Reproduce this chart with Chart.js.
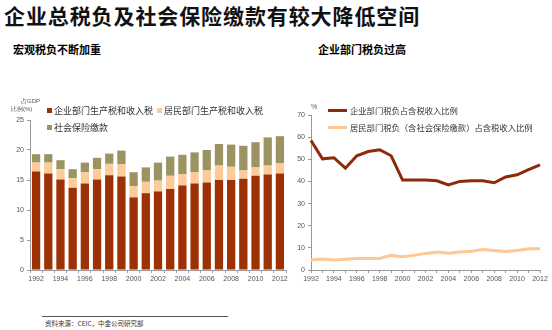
<!DOCTYPE html>
<html><head><meta charset="utf-8">
<script src="https://cdn.jsdelivr.net/npm/chart.js@4.4.1/dist/chart.umd.min.js"></script>
<style>
html,body{margin:0;padding:0;background:#fff;}
body{width:552px;height:330px;position:relative;overflow:hidden;font-family:"Noto Sans CJK SC","Noto Sans",sans-serif;}
.t{position:absolute;white-space:nowrap;line-height:1;}
#title{left:4px;top:5px;font-size:21px;font-weight:bold;color:#111;letter-spacing:0.9px;}
.sub{font-size:11px;font-weight:bold;color:#000;}
.lg{font-size:9px;color:#333;}
.lg2{font-size:8.3px;color:#333;}
.sm{font-size:6px;color:#555;font-family:"Liberation Sans",sans-serif;}
.sw{position:absolute;width:5px;height:5px;}
.ln{position:absolute;width:19px;height:3px;}
#c1{position:absolute;left:0;top:95px;}
#c2{position:absolute;left:295px;top:95px;}
#foot{position:absolute;left:42px;top:316px;width:186px;border-top:1px solid #555;}
</style></head><body>
<div id="title" class="t"></div>
<div id="sub1" class="t sub" style="left:13px;top:44px;"></div>
<div id="sub2" class="t sub" style="left:318px;top:44px;"></div>
<canvas id="c1" width="292" height="200"></canvas>
<canvas id="c2" width="257" height="200"></canvas>
<div class="t sm" style="left:21px;top:98px;">占GDP</div>
<div class="t sm" style="left:11px;top:106px;">比例(%)</div>
<div class="t sm" style="left:311px;top:103px;font-size:7px;">%</div>
<div id="leg1"></div>
<div id="leg2"></div>
<div id="foot"></div>
<div class="t" style="left:45px;top:320px;font-size:6.5px;color:#333;">资料来源：CEIC，中金公司研究部</div>
<script>
const titleText = "企业总税负及社会保险缴款有较大降低空间";
const subLeft = "宏观税负不断加重";
const subRight = "企业部门税负过高";
const years = ["1992","1993","1994","1995","1996","1997","1998","1999","2000","2001","2002","2003","2004","2005","2006","2007","2008","2009","2010","2011","2012"];
const barNames = ["企业部门生产税和收入税","居民部门生产税和收入税","社会保险缴款"];
const corpTax = [16.4,16.1,15.1,13.7,14.4,15.1,15.8,15.6,12.1,12.8,13.1,13.5,14.1,14.4,14.6,15.0,15.0,15.2,15.7,15.9,16.1];
const houseTax = [1.5,1.8,1.7,1.6,1.9,1.7,1.9,2.0,1.9,1.9,1.8,2.2,1.9,1.9,2.0,2.4,2.2,1.4,1.4,1.5,1.7];
const socialIns = [1.4,1.4,1.5,1.5,1.6,1.9,1.7,2.3,2.3,2.4,3.0,3.2,3.2,3.3,3.4,3.6,3.7,4.1,4.2,4.7,4.5];
const lineNames = ["企业部门税负占含税收入比例","居民部门税负（含社会保险缴款）占含税收入比例"];
const corpShare = [58.5,50.2,50.7,46.0,51.6,53.5,54.3,51.6,40.6,40.6,40.6,40.3,38.4,40.0,40.3,40.3,39.4,42.0,43.0,45.3,47.5];
const houseShare = [4.5,5.0,4.5,4.8,5.2,5.2,5.2,6.6,6.0,6.6,7.5,8.1,7.6,8.1,8.5,9.3,8.8,8.4,8.8,9.6,9.6];
const leftTicks = [0,5,10,15,20,25];
const rightTicks = [0,10,20,30,40,50,60,70];

const barColors = ["#9e3103","#fdca99","#9b9462"];
const lineColors = ["#8e2a0c","#fdc893"];

document.getElementById('title').textContent = titleText;
document.getElementById('sub1').textContent = subLeft;
document.getElementById('sub2').textContent = subRight;

function addLegendItem(parent, cls, txtCls, color, x, y, text, tx){
  const m = document.createElement('div'); m.className = cls; m.style.left = x+'px'; m.style.top = y+'px'; m.style.background = color; parent.appendChild(m);
  const t = document.createElement('div'); t.className = 't ' + txtCls; t.style.left = tx+'px'; t.style.top = (y - (cls==='sw'?2.5:3))+'px'; t.textContent = text; parent.appendChild(t);
}
const l1 = document.getElementById('leg1');
addLegendItem(l1,'sw','lg',barColors[0],47,108,barNames[0],54);
addLegendItem(l1,'sw','lg',barColors[1],157,108,barNames[1],164);
addLegendItem(l1,'sw','lg',barColors[2],47,125,barNames[2],54);
const l2 = document.getElementById('leg2');
addLegendItem(l2,'ln','lg2',lineColors[0],328,109,lineNames[0],350);
addLegendItem(l2,'ln','lg2',lineColors[1],328,126,lineNames[1],350);

const tickFont = {family:"Liberation Sans", size:7};
const tickColor = "#555";

new Chart(document.getElementById('c1'), {
  type:'bar',
  data:{labels:years, datasets:[
    {label:barNames[0], data:corpTax, backgroundColor:barColors[0], barPercentage:0.68, categoryPercentage:1},
    {label:barNames[1], data:houseTax, backgroundColor:barColors[1], barPercentage:0.68, categoryPercentage:1},
    {label:barNames[2], data:socialIns, backgroundColor:barColors[2], barPercentage:0.68, categoryPercentage:1}
  ]},
  options:{
    responsive:false, animation:false,
    layout:{padding:{top:25,right:6,left:0,bottom:0}},
    plugins:{legend:{display:false}, tooltip:{enabled:false}},
    scales:{
      x:{stacked:true,
        grid:{display:true, drawOnChartArea:false, offset:true, tickLength:3, color:"#7fa7d0"},
        border:{display:true,color:"#999"},
        ticks:{autoSkip:false, maxRotation:0, font:tickFont, color:tickColor, padding:2,
          callback:function(v,i){return i%2===0?years[i]:'';}},
        afterFit:function(s){s.height=25;}
      },
      y:{stacked:true, min:0, max:25,
        grid:{display:true, drawOnChartArea:false, tickLength:3, color:"#999"},
        border:{display:true,color:"#999"},
        afterBuildTicks:function(s){s.ticks=leftTicks.map(v=>({value:v}));},
        ticks:{font:tickFont, color:tickColor, padding:3},
        afterFit:function(s){s.width=30;}
      }
    }
  }
});

new Chart(document.getElementById('c2'), {
  type:'line',
  data:{labels:years, datasets:[
    {label:lineNames[0], data:corpShare, borderColor:lineColors[0], borderWidth:3, pointRadius:0, tension:0, fill:false},
    {label:lineNames[1], data:houseShare, borderColor:lineColors[1], borderWidth:3, pointRadius:0, tension:0, fill:false}
  ]},
  options:{
    responsive:false, animation:false,
    layout:{padding:{top:20,right:12,left:0,bottom:0}},
    plugins:{legend:{display:false}, tooltip:{enabled:false}},
    scales:{
      x:{offset:false,
        grid:{display:true, drawOnChartArea:false, tickLength:3, color:"#999"},
        border:{display:true,color:"#999"},
        ticks:{autoSkip:false, maxRotation:0, font:tickFont, color:tickColor, padding:2,
          callback:function(v,i){return i%2===0?years[i]:'';}},
        afterFit:function(s){s.height=25;}
      },
      y:{min:0, max:70,
        grid:{display:true, drawOnChartArea:false, tickLength:3, color:"#999"},
        border:{display:true,color:"#999"},
        afterBuildTicks:function(s){s.ticks=rightTicks.map(v=>({value:v}));},
        ticks:{font:tickFont, color:tickColor, padding:3},
        afterFit:function(s){s.width=16;}
      }
    }
  }
});
</script>
</body></html>
